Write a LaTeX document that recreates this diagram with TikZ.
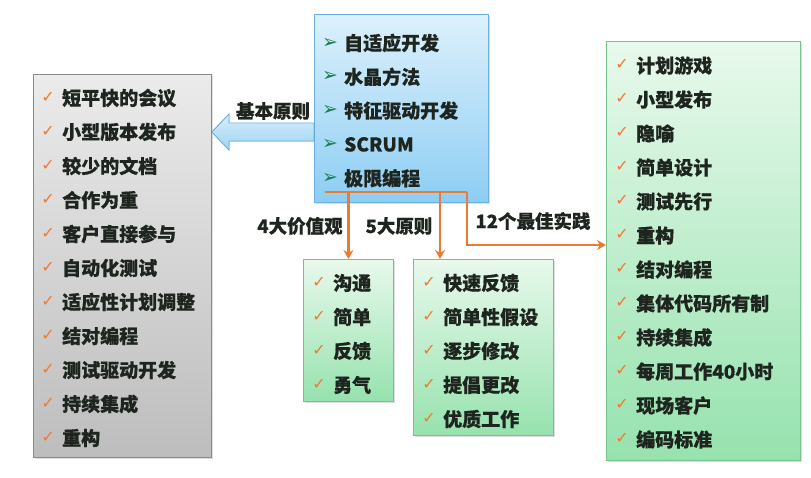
\documentclass[tikz,border=0pt]{standalone}
\usepackage{fontspec}
\setmainfont{Noto Sans CJK SC}[BoldFeatures={FakeBold=0.5}]
\newfontfamily\dejavu{DejaVu Sans}
\usetikzlibrary{shadows,arrows.meta,calc}
\definecolor{txt}{HTML}{1E241E}
\definecolor{chkc}{HTML}{F07A2C}
\definecolor{orangeline}{HTML}{EE7A30}
\definecolor{bulletc}{HTML}{1C7E50}
\definecolor{graytop}{HTML}{EBEBEB}
\definecolor{graybot}{HTML}{BDBDBD}
\definecolor{grayedge}{HTML}{8A8A8A}
\definecolor{bluetop}{HTML}{DDF1FC}
\definecolor{bluebot}{HTML}{8DCDF3}
\definecolor{blueedge}{HTML}{6AB2E4}
\definecolor{greentop}{HTML}{E8F9EC}
\definecolor{greenbot}{HTML}{96E2AE}
\definecolor{greenedge}{HTML}{76C28A}
\definecolor{arrtop}{HTML}{D6EEFB}
\definecolor{arrbot}{HTML}{9ED3F2}
\tikzset{
  boxbase/.style={rectangle, inner sep=0pt, anchor=north west, line width=0.9pt,
    drop shadow={opacity=0.25, shadow xshift=2pt, shadow yshift=-2pt}},
  graybox/.style={boxbase, draw=grayedge, top color=graytop, bottom color=graybot},
  bluebox/.style={boxbase, draw=blueedge, top color=bluetop, bottom color=bluebot},
  greenbox/.style={boxbase, draw=greenedge, top color=greentop, bottom color=greenbot},
  item/.style={anchor=west, inner sep=0pt, text=txt, font=\bfseries\fontsize{19}{19}\selectfont},
  chkmark/.style={inner sep=0pt, text=chkc, font=\dejavu\fontsize{16}{16}\selectfont},
  bulletmark/.style={inner sep=0pt, text=bulletc, font=\dejavu\fontsize{19}{19}\selectfont},
  lbl/.style={inner sep=0pt, text=txt, font=\bfseries\fontsize{18.5}{18.5}\selectfont},
  oline/.style={draw=orangeline, line width=2.4pt},
  oarrow/.style={oline, -{Stealth[length=9pt,width=10pt]}},
}
\begin{document}
\begin{tikzpicture}[x=1pt,y=-1pt]
\useasboundingbox (0,0) rectangle (811,477);
\node[graybox, minimum width=178pt, minimum height=383pt] (gray) at (33,74) {};
\node[bluebox, minimum width=174pt, minimum height=188pt] (blue) at (314,14) {};
% left blue arrow
\coordinate (tip) at (gray.east |- 0,132);
\coordinate (hb) at (229,132);
\coordinate (bw) at (blue.west |- 0,132);
\filldraw[draw=blueedge, line width=0.9pt, top color=arrtop, bottom color=arrbot]
  (tip) -- ($(hb)+(0,-18)$) -- ($(hb)+(0,-9)$) -- ($(bw)+(0,-9)$) -- ($(bw)+(0,9)$)
  -- ($(hb)+(0,9)$) -- ($(hb)+(0,18)$) -- cycle;
\node[lbl] (lblbasic) at (273,111) {基本原则};
% gray box items
\foreach \t [count=\i] in {短平快的会议,小型版本发布,较少的文档,合作为重,客户直接参与,自动化测试,适应性计划调整,结对编程,测试驱动开发,持续集成,重构}{
  \node[item] (l\i) at (62,{98+34*(\i-1)}) {\t};
  \node[chkmark] (lc\i) at ($(l\i.west)+(-14,-1)$) {✓};
}
% blue box items
\foreach \t [count=\i] in {自适应开发,水晶方法,特征驱动开发,SCRUM,极限编程}{
  \node[item] (b\i) at (344,{43+33.8*(\i-1)}) {\t};
  \node[bulletmark] (bc\i) at ($(b\i.west)+(-14,0)$) {➢};
}
% green boxes
\node[greenbox, minimum width=90pt, minimum height=142pt] (g1) at (303,259) {};
\node[greenbox, minimum width=140pt, minimum height=176pt] (g2) at (413,259) {};
\node[greenbox, minimum width=194pt, minimum height=419pt] (g3) at (606,41) {};
\foreach \t [count=\i] in {沟通,简单,反馈,勇气}{
  \node[item] (v\i) at (333,{283+34*(\i-1)}) {\t};
  \node[chkmark] (vc\i) at ($(v\i.west)+(-14,-1)$) {✓};
}
\foreach \t [count=\i] in {快速反馈,简单性假设,逐步修改,提倡更改,优质工作}{
  \node[item] (p\i) at (443,{283+34*(\i-1)}) {\t};
  \node[chkmark] (pc\i) at ($(p\i.west)+(-14,-1)$) {✓};
}
\foreach \t [count=\i] in {计划游戏,小型发布,隐喻,简单设计,测试先行,重构,结对编程,集体代码所有制,持续集成,每周工作40小时,现场客户,编码标准}{
  \node[item] (r\i) at (636,{65.5+34*(\i-1)}) {\t};
  \node[chkmark] (rc\i) at ($(r\i.west)+(-14,-1)$) {✓};
}
% orange connectors
\coordinate (os) at (325,192);
\coordinate (oe) at (467,192);
\coordinate (ob) at (467,245);
\coordinate (a2) at (440,192);
\draw[oline] (os) -- (oe);
\draw[oarrow] (g1.north |- os) -- (g1.north);
\draw[oarrow] (a2) -- (a2 |- g2.north);
\draw[oarrow] (oe) -- (ob) -- (ob -| g3.west);
% labels
\node[lbl] (lblv) at (300,226) {4大价值观};
\node[lbl] (lblp) at (399,226) {5大原则};
\node[lbl] (lblb) at (533,221) {12个最佳实践};
\end{tikzpicture}
\end{document}
